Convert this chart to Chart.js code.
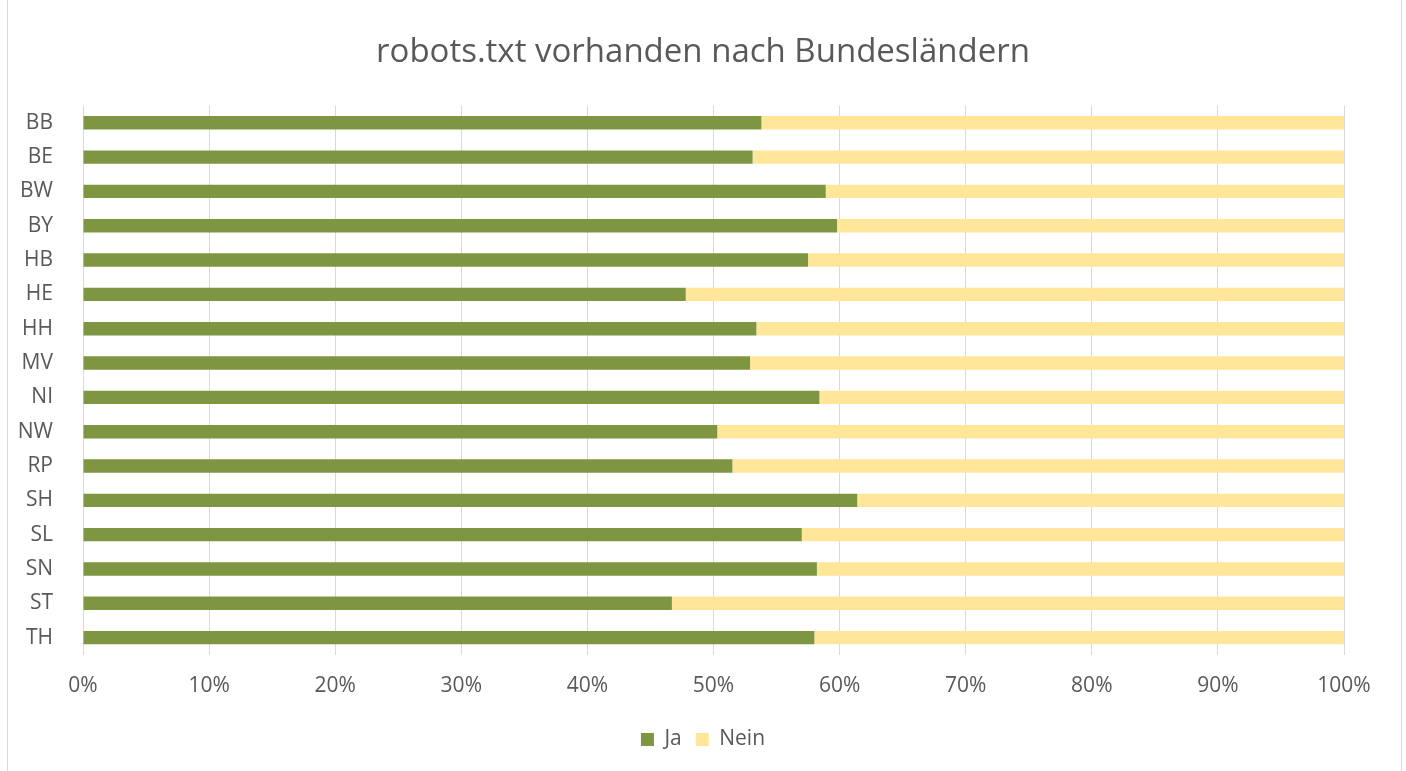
<!DOCTYPE html>
<html>
<head>
<meta charset="utf-8">
<script src="https://cdn.jsdelivr.net/npm/chart.js@4"></script>
<style>
  html, body { margin: 0; padding: 0; background: #fff; }
  #wrap { width: 1406px; height: 771px; position: relative; }
</style>
</head>
<body>
<div id="wrap"><canvas id="grafico" width="1406" height="771"></canvas></div>
<script>
// Daten (Anteil in %)
const bundeslaender = ["BB", "BE", "BW", "BY", "HB", "HE", "HH", "MV", "NI", "NW", "RP", "SH", "SL", "SN", "ST", "TH"];
const ja   = [53.8, 53.1, 58.9, 59.8, 57.5, 47.8, 53.4, 52.9, 58.4, 50.3, 51.5, 61.4, 57.0, 58.2, 46.7, 58.0];
const nein = [46.2, 46.9, 41.1, 40.2, 42.5, 52.2, 46.6, 47.1, 41.6, 49.7, 48.5, 38.6, 43.0, 41.8, 53.3, 42.0];
const xTicks = [0, 10, 20, 30, 40, 50, 60, 70, 80, 90, 100];

const textColor = "#595959";
const gridColor = "#d9d9d9";

// Rahmen links/rechts wie im Original, Titel + Legende über die ganze Breite zentrieren
const rahmen = {
    id: "rahmen",
    afterLayout(chart) {
        [chart.titleBlock, chart.legend].forEach(b => {
            if (!b) return;
            b.left = 0;
            b.right = chart.width;
        });
        if (chart.legend) {
            chart.legend.top -= 3;
            chart.legend.bottom -= 3;
        }
    },
    beforeDraw(chart) {
        const c = chart.ctx;
        c.save();
        c.strokeStyle = "#d9d9d9";
        c.lineWidth = 1;
        c.beginPath();
        c.moveTo(7.5, 0); c.lineTo(7.5, chart.height);
        c.moveTo(1401.5, 0); c.lineTo(1401.5, chart.height);
        c.stroke();
        c.restore();
    }
};

const ctx = document.getElementById("grafico").getContext("2d");
new Chart(ctx, {
    type: "bar",
    data: {
        labels: bundeslaender,
        datasets: [
            { label: "Ja", data: ja, backgroundColor: "#7e9641", barPercentage: 0.39, categoryPercentage: 1 },
            { label: "Nein", data: nein, backgroundColor: "#ffe699", barPercentage: 0.39, categoryPercentage: 1 }
        ]
    },
    options: {
        indexAxis: "y",
        responsive: false,
        animation: false,
        layout: { padding: { left: 0, right: 62, top: 0, bottom: 8 } },
        scales: {
            x: {
                stacked: true,
                min: 0,
                max: 100,
                afterBuildTicks: s => { s.ticks = xTicks.map(v => ({ value: v })); },
                ticks: {
                    callback: v => v + "%",
                    color: textColor,
                    font: { family: "Open Sans", size: 21 },
                    padding: 19,
                    maxRotation: 0
                },
                grid: { color: gridColor, drawTicks: false },
                border: { display: false }
            },
            y: {
                stacked: true,
                afterFit: s => { s.width = 83; },
                ticks: {
                    color: textColor,
                    font: { family: "Open Sans", size: 21 },
                    padding: 22,
                    autoSkip: false
                },
                grid: { display: false },
                border: { display: false }
            }
        },
        plugins: {
            title: {
                display: true,
                text: "robots.txt vorhanden nach Bundesländern",
                color: textColor,
                font: { family: "Open Sans", size: 33, weight: "normal" },
                padding: { top: 33, bottom: 33 }
            },
            legend: {
                position: "bottom",
                labels: {
                    color: textColor,
                    font: { family: "Open Sans", size: 21 },
                    boxWidth: 13,
                    boxHeight: 13,
                    padding: 14
                }
            },
            tooltip: { enabled: false }
        }
    },
    plugins: [rahmen]
});
</script>
</body>
</html>
